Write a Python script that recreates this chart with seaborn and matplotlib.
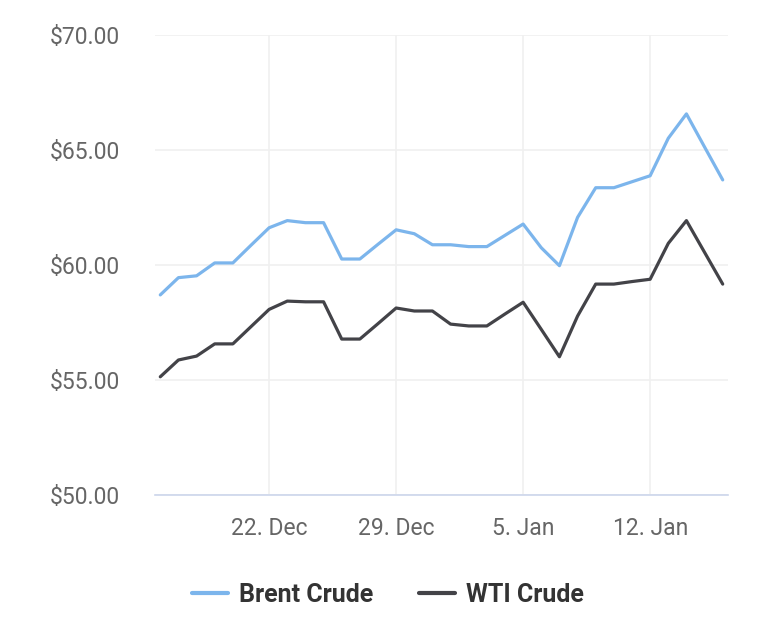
import pandas as pd
import numpy as np
import matplotlib
matplotlib.use('Agg')
import matplotlib.pyplot as plt
import matplotlib.dates as mdates
from matplotlib.lines import Line2D
import seaborn as sns

# valores (um por dia, 16 Dez a 16 Jan)
dates = pd.date_range('2017-12-16', '2018-01-16', freq='D')
brent = [58.70, 59.45, 59.53, 60.09, 60.09, 60.86, 61.62, 61.93, 61.84, 61.84,
         60.26, 60.26, 60.90, 61.53, 61.36, 60.88, 60.88, 60.80, 60.80, 61.29,
         61.78, 60.75, 59.97, 62.07, 63.36, 63.36, 63.62, 63.88, 65.51, 66.57,
         65.13, 63.70]
wti = [55.14, 55.87, 56.04, 56.57, 56.57, 57.32, 58.07, 58.43, 58.40, 58.40,
       56.78, 56.78, 57.45, 58.13, 58.00, 58.00, 57.43, 57.35, 57.35, 57.87,
       58.38, 57.20, 56.01, 57.78, 59.17, 59.17, 59.28, 59.38, 60.94, 61.93,
       60.55, 59.17]
series_names = ['Brent Crude', 'WTI Crude']
tick_dates = ['2017-12-22', '2017-12-29', '2018-01-05', '2018-01-12']
y_ticks = [50, 55, 60, 65, 70]

df = pd.DataFrame({
    'data': list(dates) * 2,
    'preco': brent + wti,
    'serie': [series_names[0]] * len(dates) + [series_names[1]] * len(dates),
})

sns.set_style('white')
plt.rcParams['font.family'] = ['Roboto', 'DejaVu Sans']

fig = plt.figure(figsize=(7.78, 6.31), dpi=100)
ax = fig.add_axes([155 / 778, 1 - 495 / 631, (728 - 155) / 778, (495 - 35) / 631])

sns.lineplot(data=df, x='data', y='preco', hue='serie',
             palette=['#7cb5ec', '#434348'], linewidth=2.3, ax=ax, legend=False)

ax.set_ylim(50, 70)
ax.set_yticks(y_ticks)
ax.set_yticklabels([f'${v:.2f}' for v in y_ticks])
ax.set_xlim(dates[0] - pd.Timedelta(hours=7), dates[-1] + pd.Timedelta(hours=7))
ax.set_xticks(pd.to_datetime(tick_dates))
ax.xaxis.set_major_formatter(mdates.DateFormatter('%-d. %b'))

ax.grid(True, color='#f0f0f0', linewidth=1.2)
ax.set_axisbelow(True)
for s in ['top', 'right', 'left']:
    ax.spines[s].set_visible(False)
ax.spines['bottom'].set_color('#ccd6eb')
ax.spines['bottom'].set_linewidth(1.2)

ax.tick_params(axis='y', length=0, pad=25, labelsize=16.5, labelcolor='#666666')
ax.tick_params(axis='x', length=15, width=1, color='#cccccc', pad=1,
               labelsize=16.5, labelcolor='#666666')
ax.set_xlabel('')
ax.set_ylabel('')

handles = [Line2D([0], [0], color='#7cb5ec', lw=3),
           Line2D([0], [0], color='#434348', lw=3)]
fig.legend(handles, series_names, loc='center', bbox_to_anchor=(388 / 778, 1 - 595 / 631),
           ncol=2, frameon=False, handlelength=1.42, handletextpad=0.46,
           columnspacing=1.83, prop={'weight': 'bold', 'size': 18},
           labelcolor='#333333')

plt.savefig('out.png', dpi=100)
